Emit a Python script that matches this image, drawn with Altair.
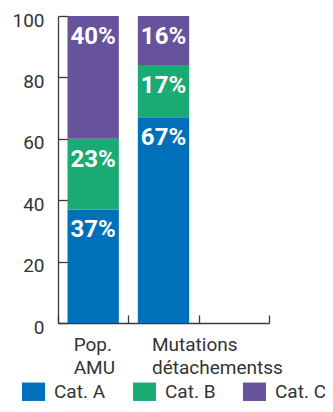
import altair as alt
import pandas as pd

categories = ["Pop.|AMU", "Mutations|détachementss", " "]
groups = ["Cat. A", "Cat. B", "Cat. C"]
pop_amu = [37, 23, 40]
mutations = [67, 17, 16]
colors = ["#0070BA", "#1AAA73", "#67529C"]
y_ticks = [0, 20, 40, 60, 80, 100]

rows = []
for cat, vals in zip(categories[:2], [pop_amu, mutations]):
    for i, (g, v) in enumerate(zip(groups, vals)):
        rows.append({"cat": cat, "group": g, "value": v, "order": i})
df = pd.DataFrame(rows)

FONT = "Roboto"
TXT = "#333333"
AX = "#3a3a3a"

x = alt.X(
    "cat:N",
    scale=alt.Scale(domain=categories, paddingInner=0, paddingOuter=0),
    title=None,
    axis=alt.Axis(
        domainColor=AX, domainWidth=1.3, tickColor=AX, tickWidth=1.3,
        tickSize={"expr": "-8"}, tickBand="extent",
        labelExpr="split(datum.label, '|')", labelAlign="left",
        labelOffset={"condition": {"test": "datum.value === 'Pop.|AMU'", "value": -20}, "value": -12},
        labelPadding=20, labelFontSize=19, labelFont=FONT, labelColor=TXT,
        labelLineHeight=23, labelBaseline="top", labelAngle=0,
    ),
)

y_axis = alt.Axis(
    values=y_ticks, domainColor=AX, domainWidth=1.3, tickColor=AX, tickWidth=1.3,
    tickSize={"expr": "-10"}, labelPadding=24, labelFontSize=19, labelFont=FONT,
    labelColor=TXT, grid=False, labelOffset=4,
)

base = alt.Chart(df).transform_stack(
    stack="value", groupby=["cat"], as_=["y0", "y1"], sort=[alt.SortField("order")]
)

bars = base.mark_bar(width=alt.RelativeBandSize(0.73)).encode(
    x=x,
    y=alt.Y("y0:Q", scale=alt.Scale(domain=[0, 100], nice=False), axis=y_axis, title=None),
    y2="y1:Q",
    color=alt.Color(
        "group:N",
        scale=alt.Scale(domain=groups, range=colors),
        legend=alt.Legend(
            orient="none", legendX=-36, legendY=364, direction="horizontal", title=None,
            symbolType="M-1,-0.8H1V0.8H-1Z", symbolSize=529, symbolStrokeWidth=0,
            labelFontSize=19, labelFont=FONT, labelColor=TXT, labelOffset=9,
            columnPadding=27, padding=0,
        ),
    ),
)

labels = base.transform_calculate(lbl="datum.value + '%'").mark_text(
    font=FONT, fontSize=24, fontWeight="bold", color="white", baseline="top", dy=9
).encode(
    x=x,
    y=alt.Y("y1:Q"),
    text="lbl:N",
)

chart = (bars + labels).properties(
    width=211, height=307, autosize="none",
    padding={"left": 50, "top": 8, "right": 56, "bottom": 81},
).configure_view(stroke=None)

chart.save("out.html", embed_options={"renderer": "svg", "actions": False})
